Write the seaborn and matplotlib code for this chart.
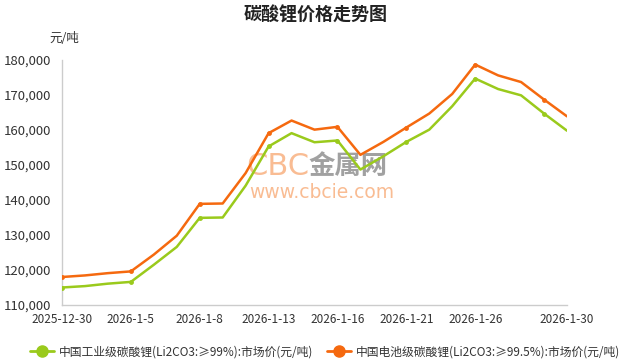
import matplotlib
matplotlib.use("Agg")
import matplotlib.pyplot as plt
import seaborn as sns
import pandas as pd
from matplotlib.lines import Line2D

dates = ["2025-12-30", "2025-12-31", "2026-1-4", "2026-1-5", "2026-1-6", "2026-1-7",
         "2026-1-8", "2026-1-9", "2026-1-12", "2026-1-13", "2026-1-14", "2026-1-15",
         "2026-1-16", "2026-1-19", "2026-1-20", "2026-1-21", "2026-1-22", "2026-1-23",
         "2026-1-26", "2026-1-27", "2026-1-28", "2026-1-29", "2026-1-30"]
industrial = [115000, 115400, 116100, 116600, 121500, 126600, 134900, 135000, 144100,
              155300, 159100, 156500, 157000, 148700, 152500, 156600, 160100, 166800,
              174700, 171700, 169900, 164700, 159800]
battery = [118000, 118450, 119100, 119600, 124400, 129800, 138900, 139000, 147700,
           159100, 162700, 160100, 160900, 152900, 156600, 160700, 164700, 170300,
           178700, 175600, 173700, 168700, 163900]
series_names = ["中国工业级碳酸锂(Li2CO3:≥99%):市场价(元/吨)",
                "中国电池级碳酸锂(Li2CO3:≥99.5%):市场价(元/吨)"]
tick_labels = ["2025-12-30", "2026-1-5", "2026-1-8", "2026-1-13", "2026-1-16",
               "2026-1-21", "2026-1-26", "2026-1-30"]
y_ticks = [110000, 120000, 130000, 140000, 150000, 160000, 170000, 180000]
colors = ["#9ACA1C", "#F5690F"]

sns.set_style("white")
plt.rcParams["font.family"] = ["Noto Sans CJK SC", "DejaVu Sans"]

df = pd.DataFrame({"date": dates * 2,
                   "price": industrial + battery,
                   "series": [series_names[0]] * len(dates) + [series_names[1]] * len(dates)})

fig = plt.figure(figsize=(6.3, 3.6), dpi=100)
ax = fig.add_axes([62 / 630, 1 - 305 / 360, (567 - 62) / 630, (305 - 60) / 360])

# watermark
ax.text(0.365, 0.565, "CBC", transform=ax.transAxes, fontsize=22, color="#F7A66F",
        alpha=0.75, ha="left", va="center", fontfamily=["DejaVu Sans"], zorder=1)
ax.text(0.488, 0.565, "金属网", transform=ax.transAxes, fontsize=19, color="#8A8A8A",
        alpha=0.8, ha="left", va="center", fontweight="bold", zorder=1)
ax.text(0.37, 0.46, "www.cbcie.com", transform=ax.transAxes, fontsize=13.5, color="#F7A66F",
        alpha=0.75, ha="left", va="center", fontfamily=["DejaVu Sans"], zorder=1)

marks = list(range(0, len(dates), 3))
for name, col in zip(series_names, colors):
    sub = df[df["series"] == name]
    sns.lineplot(data=sub, x="date", y="price", ax=ax, color=col, linewidth=1.8,
                 marker="o", markersize=3.5, markevery=marks, markeredgewidth=0,
                 sort=False, legend=False, zorder=3)

tick_pos = [dates.index(t) for t in tick_labels]
ax.set_xticks(tick_pos)
ax.set_xticklabels(tick_labels, fontsize=8.5, color="#333333")
ax.set_xlim(0, len(dates) - 1)
ax.set_ylim(110000, 180000)
ax.set_yticks(y_ticks)
ax.set_yticklabels([f"{v:,}" for v in y_ticks], fontsize=9.5, color="#333333")
ax.set_xlabel("")
ax.set_ylabel("")
for s in ["top", "right"]:
    ax.spines[s].set_visible(False)
for s in ["left", "bottom"]:
    ax.spines[s].set_color("#CCCCCC")
    ax.spines[s].set_linewidth(1)
ax.tick_params(axis="x", direction="in", length=5, color="#CCCCCC", pad=6)
ax.tick_params(axis="y", direction="out", length=4, color="#CCCCCC", pad=4)
ax.grid(False)

fig.text(316 / 630, 1 - 15 / 360, "碳酸锂价格走势图", ha="center", va="center",
         fontsize=13, fontweight="bold", color="#222222")
fig.text(64 / 630, 1 - 38 / 360, "元/吨", ha="center", va="center", fontsize=9,
         color="#333333")

handles = [Line2D([0], [0], color=c, linewidth=2, marker="o", markersize=8,
                  markerfacecolor=c, markeredgecolor=c) for c in colors]
fig.legend(handles, series_names, loc="center", bbox_to_anchor=(325 / 630, 1 - 352 / 360),
           ncol=2, frameon=False, fontsize=8.5, handlelength=2.0, handletextpad=0.4,
           columnspacing=1.2, labelcolor="#333333", borderaxespad=0, borderpad=0)

fig.savefig("out.png", dpi=100)
